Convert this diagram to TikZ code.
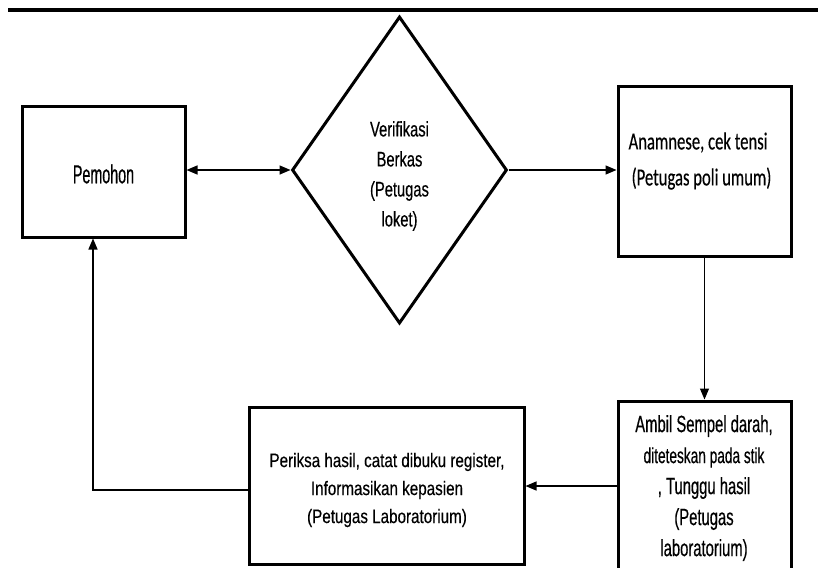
\documentclass[tikz,border=0pt]{standalone}
\usepackage{fontspec}
\setmainfont[FakeStretch=0.78,FakeBold=0.4]{Liberation Sans}
\newfontfamily\fpem[FakeStretch=0.55,FakeBold=0.4]{Liberation Sans}
\newfontfamily\fdia[FakeStretch=0.70,FakeBold=0.4]{Liberation Sans}
\newfontfamily\famb[FakeStretch=0.63,FakeBold=0.4]{Liberation Sans}
\newfontfamily\calfont[FakeStretch=0.68,FakeBold=0.3]{Carlito}
\usetikzlibrary{shapes.geometric,arrows.meta}
\tikzset{
  boxnode/.style={draw, line width=3pt, minimum width=#1, inner sep=0pt},
  txt/.style={align=center, inner sep=0pt},
  conn/.style={line width=1.3pt, -{Triangle[length=11pt,width=9pt]}},
  dconn/.style={line width=1.5pt, {Triangle[length=11pt,width=9pt]}-{Triangle[length=11pt,width=9pt]}},
}
\begin{document}
\begin{tikzpicture}[x=1pt,y=-1pt]
\useasboundingbox (0,0) rectangle (818,567);
\fill[white] (0,0) rectangle (818,567);
\draw[line width=4pt] (8,10) coordinate (tl) -- (818,10) coordinate (tr);

% boxes
\node[boxnode=163pt, minimum height=130pt] (pemohon) at (103.5,172) {};
\node[txt, font=\fpem\fontsize{26}{28}\selectfont] (tpemohon) at (103.5,174) {Pemohon};

\node[draw, line width=3pt, shape=diamond, minimum width=215pt, minimum height=307pt, inner sep=0pt] (verif) at (399.5,170) {};
\node[txt, font=\fdia\fontsize{21}{30}\selectfont] (tverif) at (399.5,176) {Verifikasi\\Berkas\\(Petugas\\loket)};

\node[boxnode=173pt, minimum height=169pt] (anam) at (704.5,171.5) {};
\node[txt, align=left, font=\calfont\fontsize{24.5}{36}\selectfont] (tanam) at (700,161) {Anamnese, cek tensi\\\hspace*{3pt}(Petugas poli umum)};

\node[boxnode=173pt, minimum height=170pt] (ambil) at (704.5,486) {};
\node[txt, font=\famb\fontsize{23.5}{31}\selectfont] (tambil) at (704,488) {Ambil Sempel darah,\\{\fontsize{21.7}{31}\selectfont diteteskan pada stik}\\, Tunggu hasil\\(Petugas\\laboratorium)};

\node[boxnode=275pt, minimum height=157pt] (periksa) at (386.5,485.5) {};
\node[txt, font=\fontsize{19.5}{28}\selectfont] (tperiksa) at (387,490) {Periksa hasil, catat dibuku register,\\Informasikan kepasien\\(Petugas Laboratorium)};

% connectors
\coordinate (pk) at (93,490);
\draw[dconn] (verif.west -| pemohon.east) -- (verif.west);
\draw[conn] (verif.east) -- (verif.east -| anam.west);
\draw[conn, line width=1pt] (anam.south) -- (ambil.north);
\draw[conn] (ambil.west) -- (ambil.west -| periksa.east);
\draw[conn] (periksa.west |- pk) -- (pk) -- (pk |- pemohon.south);
\end{tikzpicture}
\end{document}
